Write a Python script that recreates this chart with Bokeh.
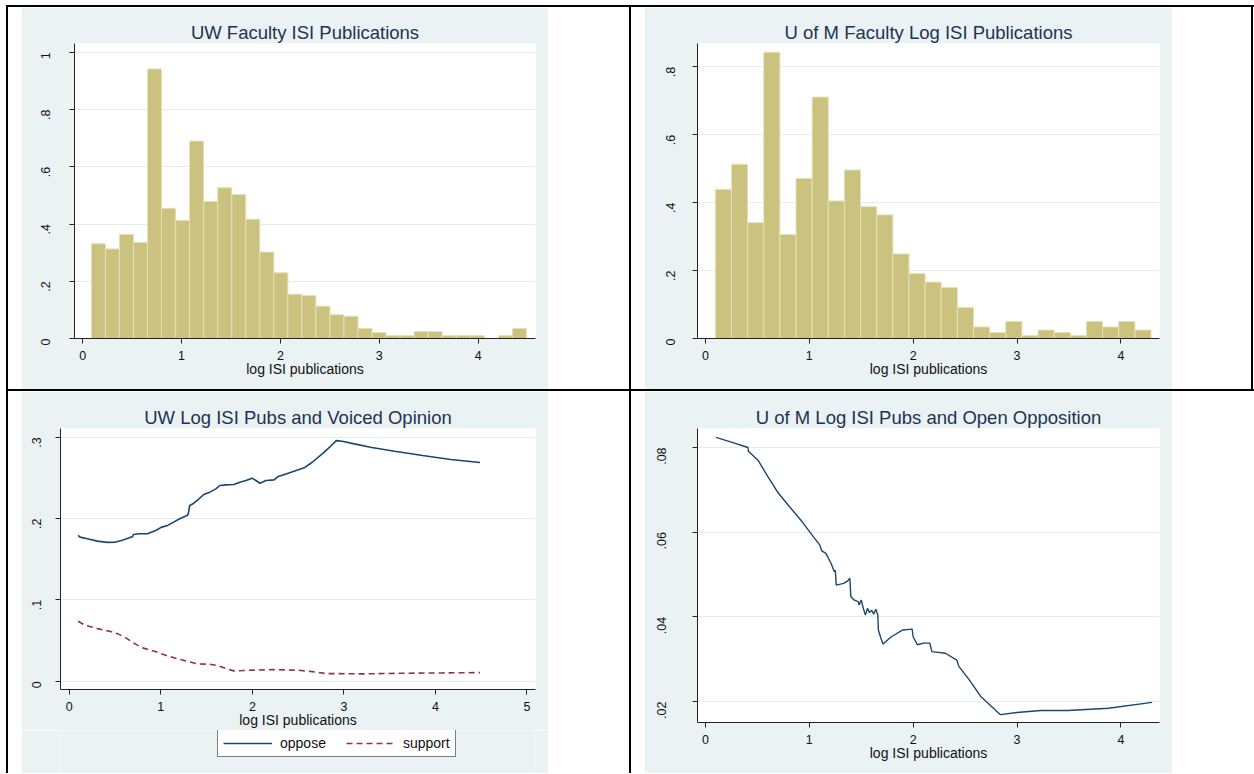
import math
from bokeh.plotting import figure
from bokeh.models import (ColumnDataSource, FixedTicker, Legend, LegendItem, Div, Spacer,
                          Range1d)
from bokeh.layouts import row, column
from bokeh.embed import file_html
from bokeh.resources import INLINE

# ---------------- data ----------------
uw_bin_start = 0.089
uw_bin_width = 0.1419
uw_density = [0.331, 0.313, 0.364, 0.336, 0.942, 0.455, 0.413, 0.690, 0.479, 0.527,
              0.503, 0.417, 0.302, 0.230, 0.155, 0.150, 0.113, 0.083, 0.078, 0.035,
              0.021, 0.010, 0.010, 0.024, 0.024, 0.010, 0.010, 0.010, 0.0, 0.010, 0.035]

um_bin_start = 0.096
um_bin_width = 0.1553
um_density = [0.439, 0.513, 0.341, 0.843, 0.306, 0.471, 0.711, 0.405, 0.496, 0.388,
              0.364, 0.249, 0.191, 0.166, 0.150, 0.091, 0.034, 0.018, 0.050, 0.009,
              0.025, 0.018, 0.009, 0.050, 0.034, 0.050, 0.025]

uw_oppose_x = [0.096, 0.118, 0.197, 0.307, 0.417, 0.504, 0.570, 0.649, 0.693, 0.700,
               0.768, 0.855, 0.943, 1.009, 1.075, 1.140, 1.206, 1.281, 1.298, 1.316,
               1.351, 1.404, 1.469, 1.535, 1.601, 1.645, 1.711, 1.798, 1.864, 1.930,
               1.996, 2.039, 2.083, 2.149, 2.237, 2.281, 2.368, 2.478, 2.566, 2.654,
               2.763, 2.851, 2.917, 2.982, 3.114, 3.289, 3.553, 3.860, 4.167, 4.487]
uw_oppose_y = [0.1793, 0.1772, 0.1752, 0.1723, 0.1707, 0.1711, 0.1731, 0.1760, 0.1781, 0.1805,
               0.1813, 0.1813, 0.1854, 0.1895, 0.1916, 0.1957, 0.1998, 0.2034, 0.2051, 0.2161,
               0.2182, 0.2231, 0.2296, 0.2325, 0.2366, 0.2407, 0.2415, 0.2419, 0.2448, 0.2468,
               0.2497, 0.2468, 0.2435, 0.2468, 0.2476, 0.2517, 0.2549, 0.2591, 0.2624, 0.2693,
               0.2796, 0.2886, 0.2959, 0.2951, 0.2919, 0.2878, 0.2828, 0.2775, 0.2726, 0.2689]

uw_support_x = [0.096, 0.175, 0.307, 0.439, 0.526, 0.614, 0.702, 0.789, 0.921, 1.053,
                1.184, 1.316, 1.404, 1.535, 1.623, 1.711, 1.798, 1.974, 2.237, 2.500,
                2.675, 2.807, 3.202, 3.640, 4.079, 4.487]
uw_support_y = [0.0737, 0.0688, 0.0647, 0.0614, 0.0585, 0.0536, 0.0471, 0.0413, 0.0372, 0.0319,
                0.0274, 0.0237, 0.0213, 0.0209, 0.0192, 0.0156, 0.0127, 0.0135, 0.0143, 0.0135,
                0.0115, 0.0094, 0.0090, 0.0098, 0.0102, 0.0106]

um_open_x = [0.103, 0.257, 0.41, 0.414, 0.506, 0.60, 0.70, 0.81, 0.93, 1.04,
             1.10, 1.12, 1.16, 1.21, 1.24, 1.25, 1.26, 1.33, 1.37, 1.39,
             1.40, 1.43, 1.47, 1.48, 1.50, 1.52, 1.54, 1.56, 1.58, 1.60,
             1.62, 1.64, 1.66, 1.665, 1.69, 1.71, 1.79, 1.90, 1.99, 2.00,
             2.04, 2.10, 2.16, 2.18, 2.31, 2.42, 2.44, 2.54, 2.65, 2.84,
             3.0, 3.23, 3.49, 3.88, 4.30]
um_open_y = [0.0824, 0.0812, 0.0800, 0.0791, 0.0770, 0.0732, 0.0693, 0.0660, 0.0625, 0.0589,
             0.0570, 0.0556, 0.0550, 0.0526, 0.0507, 0.0510, 0.0475, 0.0479, 0.0485, 0.0491,
             0.0448, 0.0440, 0.0436, 0.0428, 0.0440, 0.0420, 0.0404, 0.0420, 0.0410, 0.0416,
             0.0406, 0.0418, 0.0404, 0.0369, 0.0349, 0.0336, 0.0353, 0.0369, 0.0371, 0.0353,
             0.0334, 0.0338, 0.0338, 0.0318, 0.0314, 0.0298, 0.0283, 0.0251, 0.0212, 0.0169,
             0.0174, 0.0179, 0.0179, 0.0184, 0.0198]

titles = ["UW Faculty ISI Publications", "U of M Faculty Log ISI Publications",
          "UW Log ISI Pubs and Voiced Opinion", "U of M Log ISI Pubs and Open Opposition"]
x_label = "log ISI publications"
legend_labels = ["oppose", "support"]

tl_yticks = [0, 0.2, 0.4, 0.6, 0.8, 1]
tl_ylabels = ["0", ".2", ".4", ".6", ".8", "1"]
tr_yticks = [0, 0.2, 0.4, 0.6, 0.8]
tr_ylabels = ["0", ".2", ".4", ".6", ".8"]
bl_yticks = [0, 0.1, 0.2, 0.3]
bl_ylabels = ["0", ".1", ".2", ".3"]
br_yticks = [0.02, 0.04, 0.06, 0.08]
br_ylabels = [".02", ".04", ".06", ".08"]
x_ticks_4 = [0, 1, 2, 3, 4]
x_ticks_5 = [0, 1, 2, 3, 4, 5]

# ---------------- style ----------------
FONT = "Liberation Sans"
BG = "#EAF2F3"
GRID = "#e3ecee"
TITLE_C = "#1e3352"
TEXT_C = "#111111"
KHAKI = "#cac27e"
KHAKI_EDGE = "#e6e0b6"
NAVY = "#1a476f"
MAROON = "#90353b"


def make_fig(title, xr, yr, yticks, ylabels, xticks, fw, fh, left, right, top, bottom,
             y_standoff):
    p = figure(output_backend="svg", toolbar_location=None,
               frame_width=fw, frame_height=fh,
               min_border_left=left, min_border_right=right,
               min_border_top=top, min_border_bottom=bottom,
               x_range=Range1d(*xr), y_range=Range1d(*yr),
               title=title, margin=0)
    p.border_fill_color = BG
    p.background_fill_color = "white"
    p.outline_line_color = None
    p.title.align = "center"
    p.title.text_font = FONT
    p.title.text_font_size = "18.5px"
    p.title.text_font_style = "normal"
    p.title.text_color = TITLE_C
    p.title.standoff = 1
    for ax in (p.xaxis[0], p.yaxis[0]):
        ax.axis_line_color = "#222222"
        ax.axis_line_width = 1
        ax.major_tick_line_color = "#222222"
        ax.major_tick_out = 5
        ax.major_tick_in = 0
        ax.minor_tick_out = 0
        ax.minor_tick_in = 0
        ax.major_label_text_font = FONT
        ax.major_label_text_font_size = "12.5px"
        ax.major_label_text_color = TEXT_C
    p.xaxis[0].major_label_standoff = 7
    p.xaxis[0].ticker = FixedTicker(ticks=xticks)
    p.xaxis[0].axis_label = x_label
    p.xaxis[0].axis_label_text_font = FONT
    p.xaxis[0].axis_label_text_font_size = "14px"
    p.xaxis[0].axis_label_text_font_style = "normal"
    p.xaxis[0].axis_label_text_color = TEXT_C
    p.xaxis[0].axis_label_standoff = -2
    p.yaxis[0].ticker = FixedTicker(ticks=yticks)
    p.yaxis[0].major_label_overrides = {t: l for t, l in zip(yticks, ylabels)}
    p.yaxis[0].major_label_orientation = math.pi / 2
    p.yaxis[0].major_label_standoff = y_standoff
    p.xgrid.visible = False
    p.ygrid.ticker = FixedTicker(ticks=yticks)
    p.ygrid.grid_line_color = GRID
    p.ygrid.grid_line_width = 1
    return p


def hist(p, start, width, dens):
    lefts, rights, tops = [], [], []
    for i, d in enumerate(dens):
        if d > 0:
            lefts.append(start + i * width)
            rights.append(start + (i + 1) * width)
            tops.append(d)
    src = ColumnDataSource(dict(left=lefts, right=rights, top=tops))
    p.quad(left="left", right="right", top="top", bottom=0, source=src,
           fill_color=KHAKI, line_color=KHAKI_EDGE, line_width=1)


# Top-left
p_tl = make_fig(titles[0], (-0.082, 4.58), (0, 1.031), tl_yticks, tl_ylabels, x_ticks_4,
                461, 295, 53, 13, 36, 51, 24)
hist(p_tl, uw_bin_start, uw_bin_width, uw_density)

# Top-right
p_tr = make_fig(titles[1], (-0.076, 4.371), (0, 0.8686), tr_yticks, tr_ylabels, x_ticks_4,
                462, 295, 53, 13, 36, 51, 22)
hist(p_tr, um_bin_start, um_bin_width, um_density)

# Bottom-left (chart part: 37 + 261 + 41 = 339 px tall)
p_bl = make_fig(titles[2], (-0.096, 5.093), (-0.0102, 0.3108), bl_yticks, bl_ylabels, x_ticks_5,
                475, 261, 39, 13, 37, 41, 19)
p_bl.line(uw_oppose_x, uw_oppose_y, line_color=NAVY, line_width=1.6)
p_bl.line(uw_support_x, uw_support_y, line_color=MAROON, line_width=1.6, line_dash="6 4")

# Legend strip under the bottom-left chart (same graph region colour, no axes)
LEG_H = 43
p_leg = figure(output_backend="svg", toolbar_location=None, width=527, height=LEG_H,
               min_border=0, margin=0, x_axis_location=None, y_axis_location=None,
               x_range=Range1d(0, 1), y_range=Range1d(1, 2))
p_leg.grid.visible = False
p_leg.outline_line_color = None
p_leg.background_fill_color = BG
p_leg.border_fill_color = BG
# key renderers: same series, lying outside this strip's visible range
k_opp = p_leg.line(uw_oppose_x, uw_oppose_y, line_color=NAVY, line_width=1.6)
k_sup = p_leg.line(uw_support_x, uw_support_y, line_color=MAROON, line_width=1.6,
                   line_dash="6 4")
leg = Legend(items=[LegendItem(label=legend_labels[0], renderers=[k_opp]),
                    LegendItem(label=legend_labels[1], renderers=[k_sup])],
             orientation="horizontal", location=(157, 16))
leg.border_line_color = "black"
leg.border_line_width = 1
leg.background_fill_color = "white"
leg.background_fill_alpha = 1
leg.label_text_font = FONT
leg.label_text_font_size = "14px"
leg.label_text_color = TEXT_C
leg.glyph_width = 49
leg.glyph_height = 14
leg.label_height = 14
leg.label_standoff = 8
leg.spacing = 20
leg.padding = 5
leg.margin = 0
p_leg.add_layout(leg, "center")

# Bottom-right
p_br = make_fig(titles[3], (-0.076, 4.371), (0.01505, 0.08448), br_yticks, br_ylabels, x_ticks_4,
                462, 294, 53, 13, 37, 51, 31)
p_br.line(um_open_x, um_open_y, line_color=NAVY, line_width=1.4)

# ---------------- table layout ----------------
def vline(h):
    return Div(text="", width=2, height=h, margin=0,
               styles={"background-color": "black"})


def hline(w):
    return Div(text="", width=w, height=2, margin=0,
               styles={"background-color": "black"})


def gap(w, h):
    return Spacer(width=w, height=h, margin=0)


RH = 382
bl_cell = column([p_bl, p_leg], spacing=0, margin=0)
top_row = row([gap(6, RH), vline(RH), gap(13, RH), p_tl, gap(81, RH),
               vline(RH), gap(13, RH), p_tr, gap(79, RH), vline(RH), gap(1, RH)],
              spacing=0, margin=0)
bot_row = row([gap(6, RH), vline(RH), gap(13, RH), bl_cell, gap(81, RH),
               vline(RH), gap(13, RH), p_br, gap(82, RH)],
              spacing=0, margin=0)
root = column([gap(1254, 5),
               row([gap(6, 2), hline(1248)], spacing=0, margin=0),
               top_row,
               row([gap(6, 2), hline(1248)], spacing=0, margin=0),
               bot_row], spacing=0, margin=0)

open("out.html", "w").write(file_html(root, INLINE))
